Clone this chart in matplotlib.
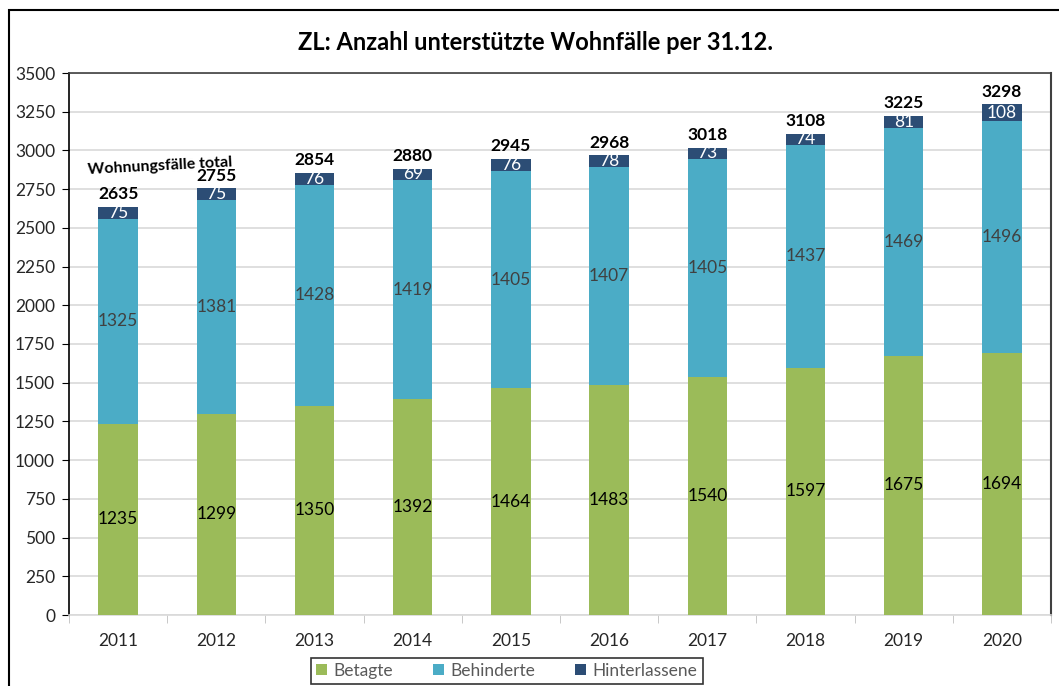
import matplotlib
matplotlib.use("Agg")
import matplotlib.pyplot as plt
import matplotlib.patches as mpatches
import numpy as np

plt.rcParams['font.family'] = ['Lato', 'DejaVu Sans']

years = ['2011', '2012', '2013', '2014', '2015', '2016', '2017', '2018', '2019', '2020']
betagte = [1235, 1299, 1350, 1392, 1464, 1483, 1540, 1597, 1675, 1694]
behinderte = [1325, 1381, 1428, 1419, 1405, 1407, 1405, 1437, 1469, 1496]
hinterlassene = [75, 75, 76, 69, 76, 78, 73, 74, 81, 108]
totals = [2635, 2755, 2854, 2880, 2945, 2968, 3018, 3108, 3225, 3298]
series_names = ['Betagte', 'Behinderte', 'Hinterlassene']
colors = ['#9BBB59', '#4BACC6', '#2C4D75']
label_colors = ['black', '#404040', 'white']
title = 'ZL: Anzahl unterstützte Wohnfälle per 31.12.'

W, H = 1059, 686
fig = plt.figure(figsize=(W / 100, H / 100), dpi=100)
ax = fig.add_axes([69 / W, 1 - 615 / H, (1051 - 69) / W, (615 - 73) / H])

x = np.arange(len(years))
bw = 0.40
bottom = np.zeros(len(years))
handles = []
for vals, col, lc, name in zip([betagte, behinderte, hinterlassene], colors, label_colors, series_names):
    vals = np.array(vals, dtype=float)
    bars = ax.bar(x, vals, bw, bottom=bottom, color=col, edgecolor='none', zorder=3, label=name)
    handles.append(bars)
    for xi, b, v in zip(x, bottom, vals):
        ax.text(xi, b + v / 2, f'{int(v)}', ha='center', va='center', color=lc, fontsize=12.5, zorder=4)
    bottom += vals

for xi, t in zip(x, totals):
    ax.text(xi, t + 30, f'{t}', ha='center', va='bottom', fontsize=12.5, fontweight='bold', color='black', zorder=4)

ax.text(0.43, 2900, 'Wohnungsfälle total', ha='center', va='center', fontsize=11.5, fontweight='bold',
        rotation=3, color='black', zorder=4)

ax.set_xlim(-0.5, len(years) - 0.5)
ax.set_ylim(0, 3500)
ax.set_yticks(np.arange(0, 3501, 250))
ax.yaxis.grid(True, color='#D9D9D9', linewidth=1.2, zorder=0)
ax.set_axisbelow(True)

ax.set_xticks(x)
ax.set_xticklabels(years, fontsize=12.5, color='#262626')
ax.set_xticks(np.arange(-0.5, len(years), 1.0), minor=True)
ax.tick_params(axis='x', which='major', length=0, pad=13)
ax.tick_params(axis='x', which='minor', length=6, color='#BFBFBF', direction='out')
ax.tick_params(axis='y', length=5, color='black', direction='out', labelsize=12.5, labelcolor='#262626', pad=5)

ax.spines['left'].set_color('black')
ax.spines['left'].set_linewidth(1.2)
ax.spines['top'].set_color('#404040')
ax.spines['top'].set_linewidth(1.2)
ax.spines['right'].set_color('#404040')
ax.spines['right'].set_linewidth(1.5)
ax.spines['bottom'].set_color('#D9D9D9')
ax.spines['bottom'].set_linewidth(1.2)

fig.text(536 / W, 1 - 42 / H, title, ha='center', va='center', fontsize=17, fontweight='bold', color='black')

leg = fig.legend(handles=handles, labels=series_names, loc='center', ncol=3,
                 bbox_to_anchor=(507 / W, 1 - 671 / H), frameon=True, fancybox=False,
                 edgecolor='black', fontsize=12.5, handlelength=0.6, handleheight=0.6,
                 columnspacing=2.3, handletextpad=0.4, borderpad=0.3, borderaxespad=0)
leg.get_frame().set_linewidth(1.2)
for t in leg.get_texts():
    t.set_color('#595959')

border = mpatches.Rectangle((8.5 / W, -0.1), 2, (H - 10) / H + 0.1, transform=fig.transFigure,
                            fill=False, edgecolor='black', linewidth=1.5, clip_on=False)
fig.patches.append(border)

fig.savefig('out.png', dpi=100)
